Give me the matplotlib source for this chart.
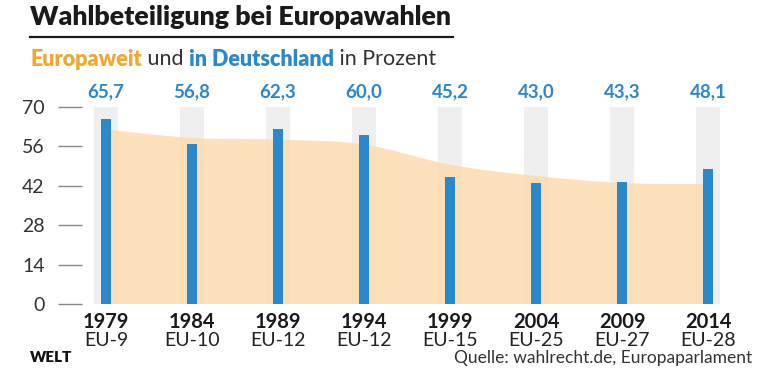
import numpy as np
import matplotlib.pyplot as plt
from matplotlib.path import Path
from matplotlib.patches import PathPatch

# Daten
jahre = ['1979', '1984', '1989', '1994', '1999', '2004', '2009', '2014']
eu_groesse = ['EU-9', 'EU-10', 'EU-12', 'EU-12', 'EU-15', 'EU-25', 'EU-27', 'EU-28']
deutschland = [65.7, 56.8, 62.3, 60.0, 45.2, 43.0, 43.3, 48.1]
europaweit = [62.0, 59.0, 58.4, 56.7, 49.5, 45.5, 43.0, 42.6]
y_ticks = [0, 14, 28, 42, 56, 70]

BLAU = '#2b88cc'
ORANGE = '#f0a830'
FLAECHE = '#fcdcae'
GRAU = '#efefef'
FONT = 'Lato'

plt.rcParams['font.family'] = [FONT, 'DejaVu Sans']

W, H = 780, 373
fig = plt.figure(figsize=(W / 100, H / 100), dpi=100)

# Achse in Pixelkoordinaten
left, right, top, bottom = 82, 735, 107, 304
ax = fig.add_axes([left / W, 1 - bottom / H, (right - left) / W, (bottom - top) / H])

x = np.arange(len(jahre))
ax.set_xlim(-(106 - left) / 86, 7 + (right - 708) / 86)
ax.set_ylim(0, 70)

# graue Hintergrundstreifen
ax.bar(x, [70] * len(x), width=0.28, color=GRAU, zorder=1)

# geglaettete Flaeche Europaweit (Bezier durch die Datenpunkte)
pts = np.column_stack([x, europaweit]).astype(float)
verts = [(pts[0][0], 0), tuple(pts[0])]
codes = [Path.MOVETO, Path.LINETO]
for i in range(len(pts) - 1):
    p0 = pts[i - 1] if i > 0 else pts[i]
    p1 = pts[i]
    p2 = pts[i + 1]
    p3 = pts[i + 2] if i + 2 < len(pts) else pts[i + 1]
    c1 = p1 + (p2 - p0) / 6
    c2 = p2 - (p3 - p1) / 6
    verts += [tuple(c1), tuple(c2), tuple(p2)]
    codes += [Path.CURVE4] * 3
verts += [(pts[-1][0], 0), (pts[0][0], 0)]
codes += [Path.LINETO, Path.CLOSEPOLY]
ax.add_patch(PathPatch(Path(verts, codes), facecolor=FLAECHE, edgecolor='none',
                       alpha=0.85, zorder=2))

# Balken Deutschland
ax.bar(x, deutschland, width=0.115, color=BLAU, zorder=3)

for xi, v in zip(x, deutschland):
    ax.text(xi, 75.5, f'{v:.1f}'.replace('.', ','), ha='center', va='center',
            fontsize=13.5, fontweight='bold', color=BLAU, clip_on=False)

# Achsen
for s in ax.spines.values():
    s.set_visible(False)
ax.set_yticks(y_ticks)
ax.set_yticklabels([str(t) for t in y_ticks], fontsize=14, color='#333333')
ax.tick_params(axis='y', length=17, width=1, color='#888888', pad=10,
               direction='out')
ax.set_xticks(x)
ax.set_xticklabels([])
ax.tick_params(axis='x', length=0)

for xi, j, e in zip(x, jahre, eu_groesse):
    ax.text(xi, -6.5, j, ha='center', va='center', fontsize=14.5,
            fontweight='bold', color='#1a1a1a', clip_on=False)
    ax.text(xi, -13.0, e, ha='center', va='center', fontsize=14,
            color='#222222', clip_on=False)

# Titel
fig.text(30 / W, 1 - 17 / H, 'Wahlbeteiligung bei Europawahlen', fontsize=19.3,
         fontweight='heavy', color='#1a1a1a', va='center', ha='left')
fig.add_artist(plt.Line2D([30 / W, 453 / W], [1 - 37 / H, 1 - 37 / H],
                          color='#1a1a1a', lw=1.6))

# Untertitel aus mehreren Stuecken
teile = [('Europaweit', ORANGE, 'heavy'), (' und ', '#333333', 'normal'),
         ('in Deutschland', BLAU, 'heavy'), (' in Prozent', '#333333', 'normal')]
renderer = fig.canvas.get_renderer()
xpos = 30
for txt, col, fw in teile:
    t = fig.text(xpos / W, 1 - 59 / H, txt, fontsize=15.5, color=col,
                 fontweight=fw, va='center', ha='left')
    bb = t.get_window_extent(renderer=renderer)
    xpos += bb.width

# Fusszeile
fig.text(30 / W, 1 - 358 / H, 'WELT', fontsize=11, fontweight='heavy',
         color='#111111', va='center', ha='left')
fig.text(752 / W, 1 - 358 / H, 'Quelle: wahlrecht.de, Europaparlament',
         fontsize=12.5, color='#333333', va='center', ha='right')

fig.savefig('out.png', dpi=100)
